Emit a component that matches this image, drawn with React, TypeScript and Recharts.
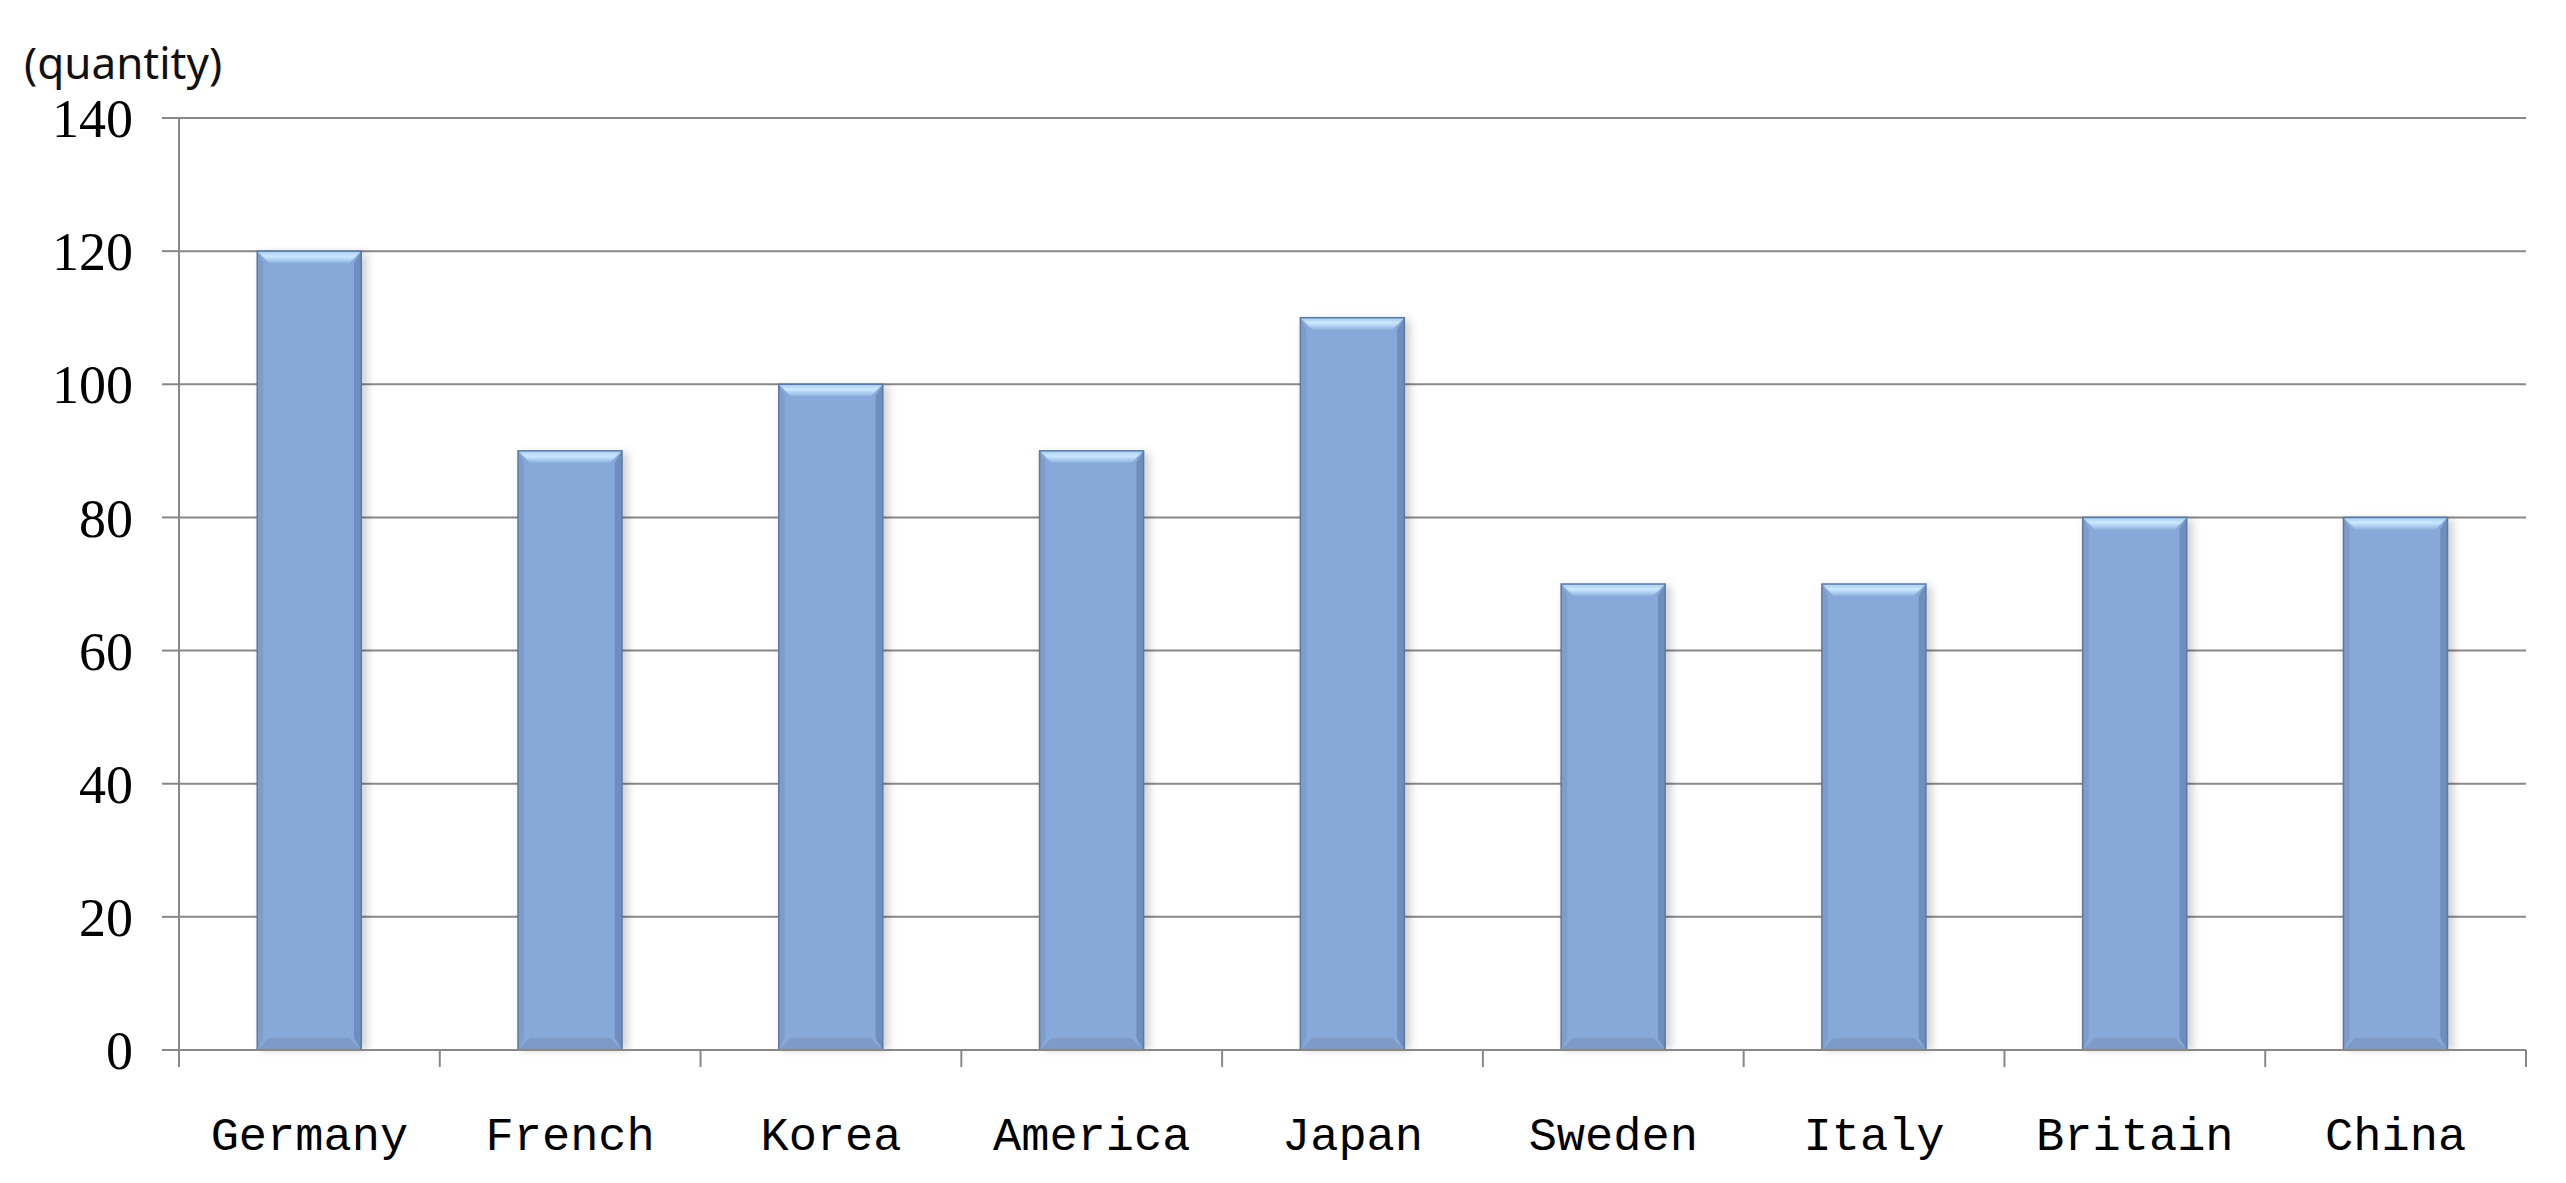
import React from "react";
import { BarChart, Bar, XAxis, YAxis, CartesianGrid } from "recharts";

const countries = ["Germany", "French", "Korea", "America", "Japan", "Sweden", "Italy", "Britain", "China"];
const quantities = [120, 90, 100, 90, 110, 70, 70, 80, 80];
const yTicks = [0, 20, 40, 60, 80, 100, 120, 140];

const data = countries.map((name, i) => ({ name, quantity: quantities[i] }));

const W = 2566;
const H = 1183;
const PLOT_LEFT = 179;
const PLOT_RIGHT = 40;
const PLOT_TOP = 118;
const X_AXIS_H = 133;
const BAND = (W - PLOT_LEFT - PLOT_RIGHT) / countries.length;
const AXIS = "#888888";

// x ticks sit between categories, like Excel, so draw them at band edges
function CountryTick(props: any) {
  const { x, y, payload } = props;
  const half = BAND / 2;
  const last = payload.value === countries[countries.length - 1];
  return (
    <g>
      <line x1={x - half} x2={x - half} y1={y} y2={y + 17} stroke={AXIS} strokeWidth={2} />
      {last ? <line x1={x + half} x2={x + half} y1={y} y2={y + 17} stroke={AXIS} strokeWidth={2} /> : null}
      <text
        x={x}
        y={y + 100}
        textAnchor="middle"
        fill="#000"
        style={{ fontFamily: "'Liberation Mono', monospace", fontSize: 47 }}
      >
        {payload.value}
      </text>
    </g>
  );
}

// bevelled bar with a soft shadow, close to the Office "bevel" style
function BevelBar(props: any) {
  const { x, y, width: w, height: h, index } = props;
  if (!h || h <= 0) return null;
  const b = 12;
  const id = `bv${index}`;
  return (
    <g>
      <defs>
        <filter id={`${id}s`} x="-20%" y="-5%" width="140%" height="110%">
          <feGaussianBlur stdDeviation="4" />
        </filter>
        <linearGradient id={`${id}t`} x1="0" y1="0" x2="0" y2="1">
          <stop offset="0%" stopColor="#a9cdf0" />
          <stop offset="45%" stopColor="#cbe8ff" />
          <stop offset="100%" stopColor="#8fb2df" />
        </linearGradient>
      </defs>
      <rect x={x + 3} y={y + 2} width={w + 3} height={h - 2} fill="#000" opacity={0.18} filter={`url(#${id}s)`} />
      <rect x={x} y={y} width={w} height={h} fill="#87a9d9" />
      <polygon points={`${x},${y} ${x + w},${y} ${x + w - b},${y + b} ${x + b},${y + b}`} fill={`url(#${id}t)`} />
      <polygon points={`${x},${y + h} ${x + w},${y + h} ${x + w - b},${y + h - b} ${x + b},${y + h - b}`} fill="#7d9bc6" />
      <polygon points={`${x},${y} ${x + b * 0.5},${y + b} ${x + b * 0.5},${y + h - b} ${x},${y + h}`} fill="#7d9dcb" />
      <polygon points={`${x + w},${y} ${x + w - b * 0.6},${y + b} ${x + w - b * 0.6},${y + h - b} ${x + w},${y + h}`} fill="#6f8ebb" />
      <rect x={x} y={y} width={w} height={h} fill="none" stroke="#5b7aa3" strokeWidth={1.5} />
    </g>
  );
}

export default function App() {
  return (
    <div style={{ position: "relative", width: W, height: H, background: "#fff" }}>
      <style>{"body{margin:0}"}</style>
      <span
        style={{
          position: "absolute",
          left: 24,
          top: 36,
          fontFamily: "'Noto Sans', sans-serif",
          fontSize: 44,
          color: "#111",
          lineHeight: 1.2,
        }}
      >
        (quantity)
      </span>
      <BarChart
        width={W}
        height={H}
        data={data}
        margin={{ top: PLOT_TOP, right: PLOT_RIGHT, left: 0, bottom: 0 }}
        barCategoryGap="30%"
      >
        <CartesianGrid vertical={false} stroke={AXIS} strokeWidth={2} />
        <XAxis
          dataKey="name"
          interval={0}
          height={X_AXIS_H}
          tickSize={0}
          tickMargin={0}
          tickLine={false}
          axisLine={{ stroke: AXIS, strokeWidth: 2 }}
          tick={<CountryTick />}
        />
        <YAxis
          width={PLOT_LEFT}
          domain={[0, 140]}
          ticks={yTicks}
          interval={0}
          tickSize={17}
          tickMargin={29}
          tickLine={{ stroke: AXIS, strokeWidth: 2 }}
          axisLine={{ stroke: AXIS, strokeWidth: 2 }}
          tick={{ fill: "#000", fontFamily: "'Liberation Serif', serif", fontSize: 54 }}
        />
        <Bar dataKey="quantity" shape={<BevelBar />} isAnimationActive={false} />
      </BarChart>
    </div>
  );
}
